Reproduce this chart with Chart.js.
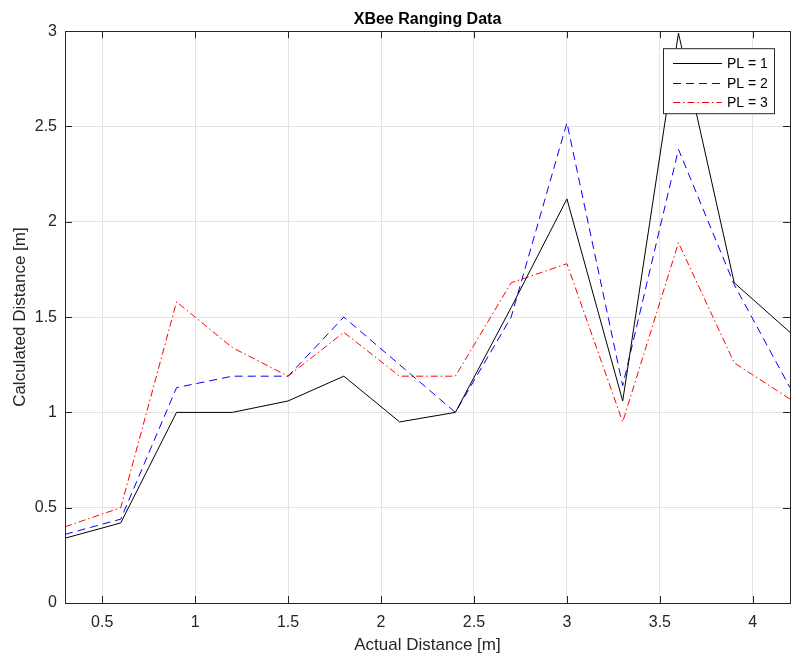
<!DOCTYPE html>
<html lang="en">
<head>
  <meta charset="UTF-8">
  <title>XBee Ranging Data</title>
  <script src="https://cdn.jsdelivr.net/npm/chart.js@4.4.1/dist/chart.umd.min.js"></script>
  <style>
    html, body { margin: 0; padding: 0; background: #fff; }
    #wrap { width: 796px; height: 660px; }
  </style>
</head>
<body>
  <div id="wrap"><canvas id="chart" width="796" height="660"></canvas></div>

  <script>
    // actual distance [m]
    const actual = [0.3, 0.6, 0.9, 1.2, 1.5, 1.8, 2.1, 2.4, 2.7, 3.0, 3.3, 3.6, 3.9, 4.2]

    // calculated distance [m] per power level
    const pl1 = [0.34, 0.42, 1.00, 1.00, 1.06, 1.19, 0.95, 1.00, 1.55, 2.12, 1.06, 2.99, 1.68, 1.42]
    const pl2 = [0.36, 0.44, 1.13, 1.19, 1.19, 1.50, 1.25, 1.00, 1.50, 2.52, 1.14, 2.38, 1.67, 1.13]
    const pl3 = [0.40, 0.50, 1.58, 1.34, 1.19, 1.42, 1.19, 1.19, 1.68, 1.78, 0.95, 1.89, 1.26, 1.07]

    const seriesLabels = ["PL = 1", "PL = 2", "PL = 3"]
    const xTicks = [0.5, 1, 1.5, 2, 2.5, 3, 3.5, 4]
    const yTicks = [0, 0.5, 1, 1.5, 2, 2.5, 3]

    const FONT = "'Liberation Sans', Arial, Helvetica, sans-serif"
    const AXIS = "#262626"

    function toPoints(ys) {
      return ys.map((y, i) => ({ x: actual[i], y: y }))
    }

    const styles = [
      { color: "#000000", dash: [] },
      { color: "#0000ff", dash: [8, 5] },
      { color: "#ff0000", dash: [7, 3, 1.5, 3] }
    ]

    const datasets = [pl1, pl2, pl3].map((ys, i) => ({
      label: seriesLabels[i],
      data: toPoints(ys),
      borderColor: styles[i].color,
      backgroundColor: styles[i].color,
      borderDash: styles[i].dash,
      borderWidth: 1,
      pointRadius: 0,
      tension: 0,
      fill: false
    }))

    // box around plot, inward ticks on all four sides, and the legend
    const matlabAxes = {
      id: "matlabAxes",
      afterDatasetsDraw(chart) {
        const { ctx, chartArea: a, scales } = chart
        const tl = 7
        ctx.save()
        ctx.strokeStyle = AXIS
        ctx.lineWidth = 1
        ctx.setLineDash([])
        ctx.beginPath()
        for (const v of xTicks) {
          const px = Math.round(scales.x.getPixelForValue(v)) + 0.5
          ctx.moveTo(px, a.bottom); ctx.lineTo(px, a.bottom - tl)
          ctx.moveTo(px, a.top); ctx.lineTo(px, a.top + tl)
        }
        for (const v of yTicks) {
          const py = Math.round(scales.y.getPixelForValue(v)) + 0.5
          ctx.moveTo(a.left, py); ctx.lineTo(a.left + tl, py)
          ctx.moveTo(a.right, py); ctx.lineTo(a.right - tl, py)
        }
        ctx.stroke()
        ctx.strokeRect(Math.round(a.left) + 0.5, Math.round(a.top) + 0.5,
          Math.round(a.right - a.left), Math.round(a.bottom - a.top))

        // legend
        const bx = a.right - 127, by = a.top + 17, bw = 111, bh = 65
        ctx.fillStyle = "#fff"
        ctx.fillRect(bx, by, bw, bh)
        ctx.strokeStyle = AXIS
        ctx.strokeRect(bx + 0.5, by + 0.5, bw, bh)
        ctx.font = "14px " + FONT
        ctx.textBaseline = "middle"
        ctx.textAlign = "left"
        seriesLabels.forEach((label, i) => {
          const y = Math.round(by + 15 + i * 19.5) + 0.5
          ctx.beginPath()
          ctx.strokeStyle = styles[i].color
          ctx.lineWidth = 1
          ctx.setLineDash(styles[i].dash)
          ctx.moveTo(bx + 10, y)
          ctx.lineTo(bx + 59, y)
          ctx.stroke()
          ctx.setLineDash([])
          ctx.fillStyle = "#000"
          ctx.fillText(label, bx + 64, y + 1)
        })
        ctx.restore()
      }
    }

    new Chart(document.getElementById("chart"), {
      type: "line",
      data: { datasets: datasets },
      plugins: [matlabAxes],
      options: {
        responsive: false,
        animation: false,
        layout: { padding: { top: 0, right: 6, bottom: 0, left: 0 } },
        plugins: {
          legend: { display: false },
          tooltip: { enabled: false },
          title: {
            display: true,
            fullSize: false,
            text: "XBee Ranging Data",
            color: "#000",
            font: { family: FONT, size: 16, weight: "bold" },
            padding: { top: 10, bottom: 2 }
          }
        },
        scales: {
          x: {
            type: "linear",
            min: 0.3,
            max: 4.2,
            afterBuildTicks: (s) => { s.ticks = xTicks.map(v => ({ value: v })) },
            afterFit: (s) => { s.height = 57 },
            grid: { color: "#e3e3e3", drawTicks: false },
            border: { color: AXIS },
            ticks: {
              color: "#262626",
              padding: 10,
              maxRotation: 0,
              font: { family: FONT, size: 16 },
              callback: (v) => String(v)
            },
            title: {
              display: true,
              text: "Actual Distance [m]",
              color: "#262626",
              font: { family: FONT, size: 17 },
              padding: { top: 0, bottom: 4 }
            }
          },
          y: {
            type: "linear",
            min: 0,
            max: 3,
            afterBuildTicks: (s) => { s.ticks = yTicks.map(v => ({ value: v })) },
            afterFit: (s) => { s.width = 65 },
            grid: { color: "#e3e3e3", drawTicks: false },
            border: { color: AXIS },
            ticks: {
              color: "#262626",
              padding: 8,
              font: { family: FONT, size: 16 },
              callback: (v) => String(v)
            },
            title: {
              display: true,
              text: "Calculated Distance [m]",
              color: "#262626",
              font: { family: FONT, size: 17 },
              padding: { top: 10, bottom: 0 }
            }
          }
        }
      }
    })
  </script>
</body>
</html>
